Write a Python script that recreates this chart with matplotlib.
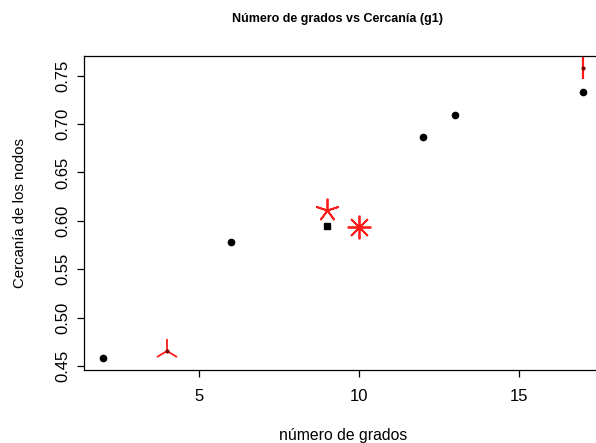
import matplotlib as mpl
import matplotlib.pyplot as plt

mpl.rcParams.update({
    "font.family": ["Liberation Sans", "DejaVu Sans"],
    "font.size": 10,
    "axes.linewidth": 0.9,
})

# black points (grado, cercania)
deg_black = [2, 6, 12, 13, 17]
clo_black = [0.458, 0.578, 0.687, 0.709, 0.733]
deg_square = [9]
clo_square = [0.595]

# red highlighted markers
deg_tri = [4]
clo_tri = [0.466]
deg_star5 = [9]
clo_star5 = [0.611]
deg_star8 = [10]
clo_star8 = [0.594]
deg_vline = [17]
clo_vline = [0.758]

xticks = [5, 10, 15]
yticks = [0.45, 0.50, 0.55, 0.60, 0.65, 0.70, 0.75]

fig = plt.figure(figsize=(5.96, 4.43), dpi=100)
ax = fig.add_axes([0.141, 0.165, 0.870, 0.708])

ax.plot(deg_black, clo_black, "o", color="black", ms=4.5, ls="none")
ax.plot(deg_square, clo_square, "s", color="black", ms=4, ls="none")

red = "#ff1a1a"
ax.plot(deg_tri, clo_tri, "2", color=red, ms=18, mew=1.3, ls="none")
ax.plot(deg_star5, clo_star5, marker=(5, 2, 0), color=red, ms=17, mew=1.3, ls="none")
ax.plot(deg_star8, clo_star8, marker=(8, 2, 0), color=red, ms=17, mew=1.3, ls="none")
ax.plot(deg_vline, clo_vline, "|", color=red, ms=16, mew=1.6, ls="none")
ax.plot(deg_tri + deg_vline, clo_tri + clo_vline, "o", color="#800000", ms=2, ls="none")

ax.set_xlim(1.4, 17.6)
ax.set_ylim(0.446, 0.770)
ax.set_xticks(xticks)
ax.set_xticklabels([str(t) for t in xticks])
ax.set_yticks(yticks)
ax.set_yticklabels([f"{t:.2f}" for t in yticks], rotation=90, va="center")
ax.tick_params(direction="out", length=5, width=0.9, labelsize=12)
ax.tick_params(axis="x", pad=9)
ax.tick_params(axis="y", pad=5)

ax.set_xlabel("número de grados", fontsize=11.3, labelpad=17)
ax.set_ylabel("Cercanía de los nodos", fontsize=10.8, labelpad=20)
fig.text(0.567, 0.958, "Número de grados vs Cercanía (g1)", ha="center",
         va="center", fontsize=9, fontweight="bold")

fig.savefig("out.png", dpi=100)
